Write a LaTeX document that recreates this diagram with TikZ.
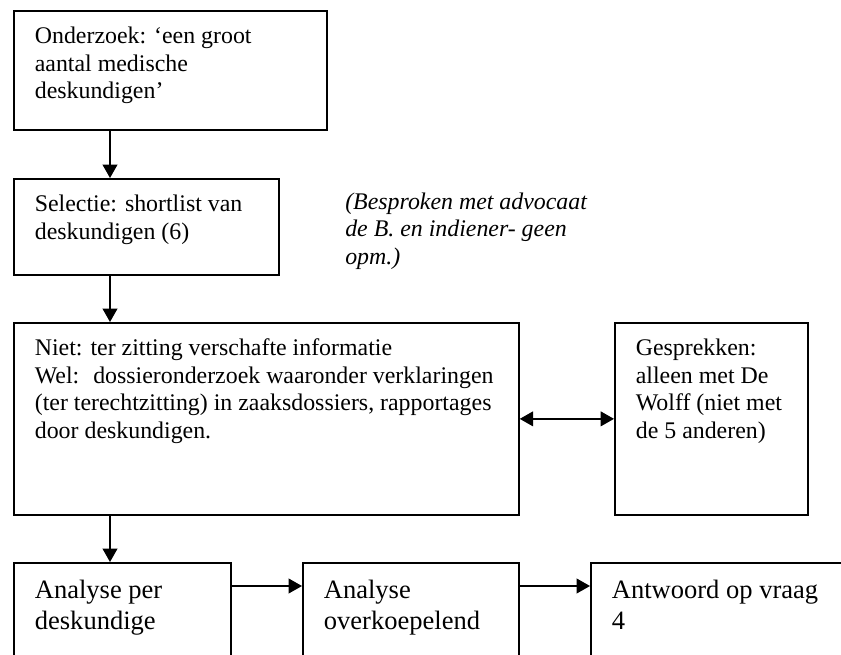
\documentclass[tikz,border=0pt]{standalone}
\usepackage{fontspec}
\setmainfont{Liberation Serif}
\usetikzlibrary{arrows.meta}

\newcommand{\boxtxt}[3]{\parbox[t][\dimexpr#2-20.6pt\relax][t]{\dimexpr#1-31.5pt\relax}{\begin{tabular}[t]{@{}l@{}}#3\end{tabular}}}

\tikzset{
  box/.style={draw, line width=1.3pt, anchor=north west, inner xsep=15.75pt, inner ysep=10.3pt,
    font=\fontsize{17.9pt}{20.6pt}\selectfont},
  bigbox/.style={box, font=\fontsize{19.9pt}{23.25pt}\selectfont},
  note/.style={anchor=north west, inner sep=0pt, font=\fontsize{17.9pt}{20.6pt}\selectfont\itshape},
  arr/.style={line width=1.3pt, -{Triangle[length=10pt,width=11pt]}},
  dblarr/.style={line width=1.3pt, {Triangle[length=10pt,width=11pt]}-{Triangle[length=10pt,width=11pt]}}
}

\begin{document}
\begin{tikzpicture}[x=0.75pt,y=0.75pt,yscale=-1]
\clip (0,0) rectangle (841,655);

% Boxes
\node[box] (onderzoek) at (13,10) {\boxtxt{234.75pt}{89.25pt}{Onderzoek: ‘een groot\\aantal medische\\deskundigen’}};
\node[box] (selectie) at (13,178) {\boxtxt{198.75pt}{72pt}{Selectie: shortlist van\\deskundigen (6)}};
\node[box] (bronnen) at (13,322) {\boxtxt{378.75pt}{144pt}{Niet: ter zitting verschafte informatie\\Wel:~ dossieronderzoek waaronder verklaringen\\(ter terechtzitting) in zaaksdossiers, rapportages\\door deskundigen.}};
\node[box] (gesprekken) at (614,322) {\boxtxt{144.75pt}{144pt}{Gesprekken:\\alleen met De\\Wolff (niet met\\de 5 anderen)}};
\node[bigbox] (perdeskundige) at (13,562) {\boxtxt{162.75pt}{112.5pt}{Analyse per\\deskundige}};
\node[bigbox] (overkoepelend) at (302,562) {\boxtxt{162pt}{112.5pt}{Analyse\\overkoepelend}};
\node[bigbox] (antwoord) at (590,562) {\boxtxt{225pt}{112.5pt}{Antwoord op vraag\\4}};

% Text Node
\node[note] (opmerking) at (345,190) {\begin{tabular}[t]{@{}l@{}}(Besproken met advocaat\\de B. en indiener- geen\\opm.)\end{tabular}};

% Arrows
\coordinate (spine) at (110,0);
\coordinate (row) at (0,586);
\draw[arr] (onderzoek.south -| spine) -- (selectie.north -| spine);
\draw[arr] (selectie.south -| spine) -- (bronnen.north -| spine);
\draw[arr] (bronnen.south -| spine) -- (perdeskundige.north -| spine);
\draw[dblarr] (bronnen.east) -- (gesprekken.west);
\draw[arr] (perdeskundige.east |- row) -- (overkoepelend.west |- row);
\draw[arr] (overkoepelend.east |- row) -- (antwoord.west |- row);
\end{tikzpicture}
\end{document}
